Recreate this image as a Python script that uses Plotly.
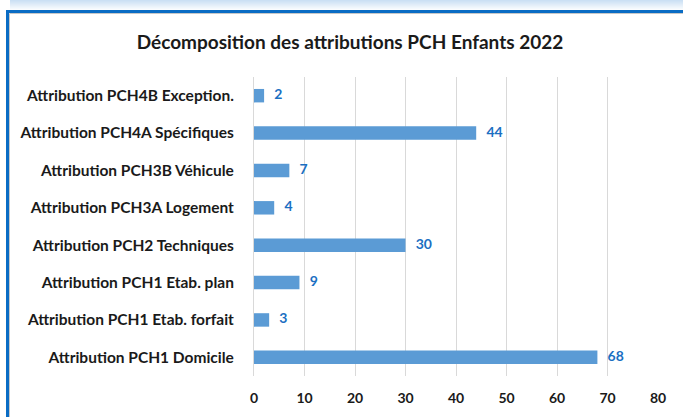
import plotly.graph_objects as go

# Attribution categories (bottom to top) and counts
categories = [
    "Attribution PCH1 Domicile",
    "Attribution PCH1 Etab. forfait",
    "Attribution PCH1 Etab. plan",
    "Attribution PCH2 Techniques",
    "Attribution PCH3A Logement",
    "Attribution PCH3B Véhicule",
    "Attribution PCH4A Spécifiques",
    "Attribution PCH4B Exception.",
]
values = [68, 3, 9, 30, 4, 7, 44, 2]
x_ticks = [0, 10, 20, 30, 40, 50, 60, 70, 80]

W, H = 683, 417
L, R, T, B = 254, 25, 77, 41
PW, PH = W - L - R, H - T - B


def px(x):
    return (x - L) / PW


def py(y):
    return (H - B - y) / PH


FONT = "Lato"

bars = go.Bar(
    x=values,
    y=categories,
    orientation="h",
    marker=dict(color="#5b9bd5", line=dict(width=0)),
    width=0.36,
    hoverinfo="x+y",
)

# value labels to the right of each bar
labels = go.Scatter(
    x=values,
    y=categories,
    mode="text",
    text=["   " + str(v) for v in values],
    textposition="middle right",
    textfont=dict(family=FONT, size=14, color="#1b6fc2", weight="bold"),
    cliponaxis=False,
    hoverinfo="skip",
)

fig = go.Figure([bars, labels])

shapes = []
# soft blue shading above the frame
for i in range(10):
    shapes.append(dict(
        type="rect", xref="paper", yref="paper",
        x0=px(10), x1=px(W), y0=py(10 - i), y1=py(9 - i),
        fillcolor="#a8cbec", opacity=0.06 + 0.06 * i, line=dict(width=0), layer="below",
    ))
# blue frame lines (top and left)
shapes.append(dict(type="rect", xref="paper", yref="paper",
                   x0=px(6), x1=px(W), y0=py(13), y1=py(10),
                   fillcolor="#0a6cc4", line=dict(width=0)))
shapes.append(dict(type="rect", xref="paper", yref="paper",
                   x0=px(6), x1=px(9), y0=py(H), y1=py(10),
                   fillcolor="#0a6cc4", line=dict(width=0)))
# thin grey inner edge
shapes.append(dict(type="line", xref="paper", yref="paper",
                   x0=px(9.5), x1=px(W), y0=py(13.5), y1=py(13.5),
                   line=dict(color="#c8c8c8", width=1)))
shapes.append(dict(type="line", xref="paper", yref="paper",
                   x0=px(9.5), x1=px(9.5), y0=py(H), y1=py(13.5),
                   line=dict(color="#c8c8c8", width=1)))

fig.update_layout(
    width=W, height=H,
    margin=dict(l=L, r=R, t=T, b=B),
    paper_bgcolor="white", plot_bgcolor="white",
    showlegend=False,
    shapes=shapes,
    title=dict(
        text="Décomposition des attributions PCH Enfants 2022",
        x=350 / W, xanchor="center",
        y=1 - 42 / H, yanchor="middle",
        font=dict(family=FONT, size=19, color="#1a1a1a", weight="bold"),
    ),
    xaxis=dict(
        range=[0, 80], tickvals=x_ticks, showgrid=True,
        gridcolor="#d9d9d9", gridwidth=1,
        zeroline=False, showline=False, automargin=False,
        ticks="outside", ticklen=9, tickcolor="rgba(0,0,0,0)",
        tickfont=dict(family=FONT, size=14, color="#1a1a1a", weight="bold"),
    ),
    yaxis=dict(
        categoryorder="array", categoryarray=categories,
        range=[-0.5, 7.5], automargin=False,
        showgrid=False, zeroline=False,
        showline=True, linecolor="#d9d9d9", linewidth=1,
        ticks="outside", ticklen=16, tickcolor="rgba(0,0,0,0)",
        tickfont=dict(family=FONT, size=15.5, color="#1a1a1a", weight="bold"),
    ),
)

fig.write_html("out.html")
